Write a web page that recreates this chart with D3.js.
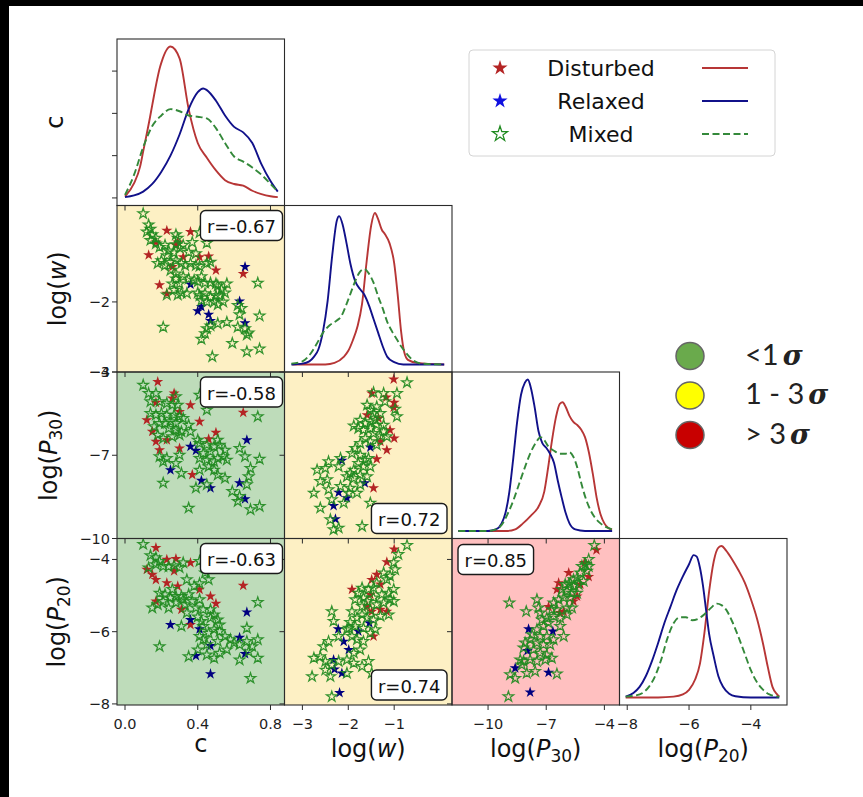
<!DOCTYPE html>
<html>
<head>
<meta charset="utf-8">
<script src="https://cdn.jsdelivr.net/npm/d3@7"></script>
<style>
body { margin: 0; background: #fff; }
svg { display: block; font-family: "DejaVu Sans", sans-serif; }
</style>
</head>
<body>
<svg id="chart" width="863" height="797"></svg>
<script>
// axes: c, log(w), log(P30), log(P20)
const xTicks = [[0, 0.4, 0.8], [-3, -2, -1], [-10, -7, -4], [-8, -6, -4]];
const yTicks = [[0, 1, 2, 3], [-3, -2], [-10, -7, -4], [-8, -6, -4]];
const xDomains = [[-0.044, 0.877], [-3.39, 0.26], [-11.86, -3.22], [-8.25, -2.83]];
const yDomains = [null, [-3, -0.624], [-10, -4], [-8.03, -3.42]];
const groups = ['Disturbed', 'Relaxed', 'Mixed'];

// c vs log(w)
const cW_dist = [[0.23,-0.98],[0.36,-1.00],[0.29,-1.15],[0.28,-1.19],[0.13,-1.33],[0.32,-1.36],[0.41,-1.36],[0.46,-1.35],[0.26,-1.50],[0.50,-1.55],[0.65,-1.60],[0.19,-1.76],[0.23,-1.88],[0.17,-1.15]];
const cW_rel = [[0.66,-1.50],[0.36,-1.75],[0.40,-2.13],[0.42,-2.07],[0.46,-2.18],[0.47,-2.27],[0.63,-1.99],[0.66,-2.30]];
const cW_mix = [[0.10,-0.74],[0.13,-0.90],[0.14,-0.96],[0.12,-1.00],[0.15,-1.04],[0.17,-1.09],[0.14,-1.12],[0.17,-1.17],[0.19,-1.22],[0.22,-1.19],[0.24,-1.27],[0.28,-1.04],[0.29,-1.09],[0.28,-1.18],[0.30,-1.23],[0.27,-1.30],[0.23,-1.34],[0.20,-1.41],[0.18,-1.45],[0.22,-1.48],[0.25,-1.43],[0.28,-1.41],[0.31,-1.45],[0.33,-1.48],[0.36,-1.45],[0.39,-1.48],[0.41,-1.49],[0.45,-1.45],[0.47,-1.43],[0.25,-1.55],[0.28,-1.60],[0.28,-1.67],[0.26,-1.74],[0.30,-1.74],[0.32,-1.64],[0.35,-1.67],[0.38,-1.69],[0.40,-1.71],[0.42,-1.64],[0.44,-1.73],[0.47,-1.73],[0.50,-1.74],[0.51,-1.77],[0.53,-1.82],[0.56,-1.74],[0.55,-1.87],[0.52,-1.91],[0.50,-1.91],[0.47,-1.93],[0.44,-1.88],[0.41,-1.91],[0.40,-1.87],[0.42,-1.98],[0.45,-2.00],[0.49,-2.00],[0.51,-2.04],[0.54,-2.00],[0.34,-1.88],[0.31,-1.87],[0.29,-1.90],[0.23,-1.90],[0.27,-1.83],[0.73,-1.73],[0.62,-2.05],[0.64,-2.09],[0.63,-2.18],[0.74,-2.20],[0.56,-2.29],[0.51,-2.31],[0.47,-2.34],[0.45,-2.38],[0.44,-2.45],[0.42,-2.53],[0.62,-2.36],[0.66,-2.38],[0.68,-2.44],[0.67,-2.47],[0.59,-2.59],[0.48,-2.78],[0.67,-2.71],[0.74,-2.67],[0.21,-2.36],[0.41,-1.01],[0.37,-1.15],[0.32,-1.19],[0.35,-1.29],[0.39,-1.31],[0.45,-1.16]];

// c vs log(P30)
const cP30_dist = [[0.18,-4.35],[0.17,-5.10],[0.27,-4.77],[0.26,-4.95],[0.36,-5.19],[0.30,-5.43],[0.12,-5.73],[0.15,-6.15],[0.17,-6.51],[0.19,-6.81],[0.41,-5.79],[0.50,-6.18],[0.46,-6.42],[0.65,-5.46],[0.30,-6.75],[0.37,-7.70],[0.23,-6.45]];
const cP30_rel = [[0.36,-6.69],[0.39,-6.83],[0.25,-7.53],[0.42,-7.91],[0.47,-8.18],[0.67,-6.45],[0.63,-8.00],[0.66,-8.58]];
const cP30_mix = [[0.10,-4.47],[0.13,-4.77],[0.17,-4.77],[0.14,-5.07],[0.19,-5.07],[0.23,-5.13],[0.28,-4.89],[0.26,-5.19],[0.29,-5.19],[0.14,-5.49],[0.17,-5.55],[0.20,-5.49],[0.23,-5.55],[0.27,-5.55],[0.30,-5.61],[0.32,-5.67],[0.25,-5.79],[0.28,-5.85],[0.22,-5.85],[0.19,-5.85],[0.16,-5.97],[0.24,-6.03],[0.28,-6.09],[0.31,-6.15],[0.18,-6.27],[0.21,-6.39],[0.26,-6.33],[0.30,-6.27],[0.35,-5.91],[0.36,-6.15],[0.19,-7.05],[0.21,-7.23],[0.23,-7.11],[0.30,-6.99],[0.28,-7.29],[0.31,-7.65],[0.21,-8.00],[0.41,-4.83],[0.45,-5.37],[0.51,-6.45],[0.49,-6.69],[0.52,-6.63],[0.55,-6.81],[0.47,-6.87],[0.43,-6.93],[0.41,-7.11],[0.45,-7.17],[0.49,-7.23],[0.51,-7.11],[0.54,-7.05],[0.56,-7.17],[0.46,-7.41],[0.49,-7.53],[0.51,-7.71],[0.55,-7.83],[0.41,-7.53],[0.39,-8.18],[0.45,-8.06],[0.59,-8.30],[0.63,-8.48],[0.63,-6.75],[0.66,-7.05],[0.74,-7.14],[0.73,-5.61],[0.69,-7.47],[0.68,-7.77],[0.67,-8.06],[0.62,-8.66],[0.69,-8.96],[0.74,-8.84],[0.35,-8.90],[0.40,-6.45],[0.41,-6.57],[0.45,-6.63]];

// c vs log(P20)
const cP20_dist = [[0.17,-3.68],[0.23,-4.00],[0.28,-3.98],[0.36,-4.09],[0.12,-4.28],[0.15,-4.42],[0.17,-4.56],[0.27,-4.32],[0.23,-4.65],[0.29,-4.74],[0.41,-4.83],[0.47,-5.02],[0.50,-5.22],[0.17,-5.16],[0.65,-4.72],[0.31,-5.39],[0.36,-5.81]];
const cP20_rel = [[0.25,-5.81],[0.36,-5.67],[0.41,-5.93],[0.47,-6.39],[0.39,-6.67],[0.47,-7.17],[0.67,-5.46],[0.63,-6.16],[0.66,-6.61]];
const cP20_mix = [[0.10,-3.58],[0.14,-3.89],[0.17,-3.95],[0.19,-4.05],[0.13,-4.23],[0.17,-4.14],[0.21,-4.19],[0.24,-4.20],[0.27,-4.17],[0.30,-4.23],[0.32,-4.09],[0.41,-4.05],[0.44,-4.37],[0.46,-4.56],[0.41,-4.67],[0.38,-4.74],[0.35,-4.97],[0.31,-5.02],[0.28,-5.02],[0.25,-5.06],[0.22,-4.97],[0.19,-4.93],[0.21,-5.16],[0.18,-5.25],[0.15,-5.34],[0.24,-5.34],[0.28,-5.20],[0.32,-5.11],[0.37,-5.16],[0.41,-5.11],[0.43,-5.39],[0.47,-5.39],[0.49,-5.53],[0.51,-5.67],[0.52,-5.81],[0.47,-5.62],[0.42,-5.71],[0.40,-5.59],[0.43,-5.85],[0.49,-5.94],[0.52,-5.99],[0.55,-6.13],[0.58,-6.22],[0.60,-6.31],[0.63,-6.36],[0.67,-6.27],[0.73,-6.22],[0.70,-6.41],[0.68,-6.55],[0.73,-6.73],[0.67,-5.90],[0.73,-5.19],[0.46,-6.04],[0.43,-6.22],[0.45,-6.36],[0.51,-6.27],[0.52,-6.59],[0.49,-6.73],[0.45,-6.64],[0.40,-6.50],[0.35,-6.69],[0.31,-5.85],[0.34,-5.48],[0.19,-6.41],[0.56,-6.50],[0.63,-6.78],[0.69,-7.29],[0.41,-6.13],[0.39,-5.34],[0.33,-5.25],[0.26,-4.83],[0.34,-4.56]];

// log(w) vs log(P30)
const wP30_dist = [[-1.01,-4.26],[-1.49,-4.77],[-1.17,-4.91],[-1.00,-5.10],[-1.01,-5.27],[-1.59,-5.55],[-1.34,-5.67],[-1.09,-6.09],[-1.00,-6.39],[-1.30,-6.51],[-1.16,-6.81],[-1.38,-7.14],[-1.45,-8.18]];
const wP30_rel = [[-1.52,-6.71],[-2.14,-7.19],[-2.21,-8.34],[-2.03,-8.54],[-2.32,-8.82],[-2.28,-9.30],[-1.64,-8.00]];
const wP30_mix = [[-0.72,-4.38],[-1.45,-4.74],[-1.23,-4.77],[-0.94,-4.77],[-1.20,-5.07],[-0.98,-5.34],[-0.94,-5.61],[-1.59,-5.19],[-1.52,-5.37],[-1.45,-5.49],[-1.38,-5.25],[-1.30,-5.49],[-1.41,-5.73],[-1.52,-5.79],[-1.63,-5.85],[-1.74,-5.73],[-1.88,-5.94],[-1.78,-6.03],[-1.67,-6.09],[-1.52,-6.03],[-1.38,-5.91],[-1.23,-5.91],[-1.16,-6.33],[-1.23,-6.15],[-1.45,-6.21],[-1.30,-6.30],[-1.63,-6.39],[-1.85,-6.75],[-1.92,-6.93],[-1.74,-6.99],[-1.63,-7.17],[-1.78,-7.29],[-1.67,-7.41],[-1.52,-7.41],[-1.59,-7.77],[-1.74,-7.71],[-1.88,-7.53],[-1.96,-7.65],[-1.88,-7.83],[-2.03,-7.77],[-2.17,-7.11],[-2.21,-7.41],[-2.43,-7.23],[-2.50,-7.47],[-2.68,-7.53],[-2.46,-7.88],[-2.61,-7.94],[-2.75,-8.36],[-2.43,-8.24],[-2.17,-8.12],[-1.96,-8.18],[-1.74,-8.06],[-1.81,-8.36],[-1.99,-8.36],[-2.10,-8.72],[-2.36,-8.60],[-2.61,-8.90],[-2.39,-9.32],[-2.32,-9.68],[-2.21,-9.62],[-1.70,-9.56],[-1.52,-8.72],[-1.56,-7.11],[-1.38,-6.63],[-1.52,-6.51],[-1.74,-6.57]];

// log(w) vs log(P20)
const wP20_dist = [[-1.00,-3.72],[-1.16,-4.07],[-1.38,-4.42],[-1.49,-4.56],[-1.92,-4.83],[-1.30,-4.69],[-1.52,-4.97],[-1.59,-5.30],[-1.49,-5.44],[-1.16,-5.44],[-1.30,-5.39],[-1.45,-6.13]];
const wP20_rel = [[-2.22,-5.93],[-2.10,-6.27],[-1.99,-6.50],[-1.78,-5.99],[-1.54,-5.76],[-2.32,-6.78],[-2.30,-7.04],[-2.14,-7.15],[-2.19,-7.69]];
const wP20_mix = [[-0.72,-3.61],[-0.91,-3.86],[-1.01,-4.09],[-0.98,-4.28],[-1.09,-4.46],[-1.16,-4.56],[-1.23,-4.37],[-1.38,-4.65],[-1.45,-4.79],[-1.56,-4.83],[-1.70,-4.79],[-1.78,-4.93],[-1.67,-5.06],[-1.59,-5.16],[-1.45,-5.06],[-1.27,-4.97],[-1.12,-4.93],[-1.01,-4.83],[-1.09,-5.11],[-1.23,-5.20],[-1.38,-5.25],[-1.52,-5.39],[-1.70,-5.30],[-1.85,-5.11],[-1.92,-5.44],[-1.81,-5.62],[-1.70,-5.53],[-1.59,-5.62],[-1.45,-5.67],[-1.30,-5.57],[-1.41,-5.94],[-1.52,-6.04],[-1.67,-5.90],[-1.85,-5.85],[-1.92,-6.13],[-1.81,-6.22],[-1.67,-6.27],[-1.74,-6.50],[-1.88,-6.59],[-2.03,-5.94],[-2.36,-5.44],[-2.32,-5.71],[-2.21,-6.13],[-2.43,-6.27],[-2.54,-6.41],[-2.61,-6.69],[-2.75,-6.73],[-2.50,-6.82],[-2.36,-6.92],[-2.21,-6.82],[-2.03,-6.78],[-1.88,-6.87],[-1.70,-6.96],[-1.56,-6.82],[-1.49,-7.15],[-2.50,-7.06],[-2.39,-7.24],[-2.03,-7.15],[-2.79,-7.24],[-2.36,-7.80],[-1.99,-5.90],[-1.96,-5.74],[-1.12,-5.53],[-1.01,-5.16]];

// log(P30) vs log(P20)
const pP_dist = [[-4.41,-3.74],[-5.03,-4.09],[-4.81,-4.48],[-5.24,-4.69],[-5.84,-4.37],[-6.36,-4.65],[-6.45,-4.83],[-6.28,-5.48],[-6.10,-5.44],[-6.88,-5.31],[-5.59,-5.16],[-5.41,-5.02]];
const pP_rel = [[-7.91,-5.93],[-7.97,-6.53],[-8.60,-7.01],[-7.83,-7.68],[-6.88,-7.13],[-6.66,-5.99]];
const pP_mix = [[-4.52,-3.61],[-4.81,-4.00],[-4.98,-4.14],[-5.16,-4.19],[-4.81,-4.19],[-4.90,-4.32],[-5.24,-4.37],[-5.41,-4.51],[-5.59,-4.56],[-5.07,-4.60],[-5.33,-4.69],[-5.59,-4.74],[-5.76,-4.65],[-6.02,-4.69],[-6.19,-4.83],[-5.93,-4.88],[-5.67,-4.93],[-5.41,-4.93],[-5.76,-5.06],[-6.10,-5.06],[-6.36,-5.11],[-6.62,-5.20],[-6.71,-5.39],[-6.45,-5.39],[-5.93,-5.34],[-5.67,-5.34],[-5.93,-5.53],[-6.28,-5.62],[-6.62,-5.57],[-6.97,-5.62],[-7.22,-5.67],[-7.40,-5.34],[-7.48,-5.11],[-8.03,-5.44],[-8.90,-5.20],[-6.88,-5.76],[-7.14,-5.85],[-7.48,-5.94],[-7.74,-6.08],[-7.31,-6.13],[-6.97,-6.13],[-6.62,-6.22],[-6.79,-6.36],[-7.14,-6.36],[-7.48,-6.31],[-7.83,-6.22],[-8.09,-6.31],[-8.17,-6.45],[-7.66,-6.50],[-7.31,-6.59],[-6.97,-6.64],[-6.71,-6.73],[-7.05,-6.78],[-7.48,-6.82],[-7.83,-6.78],[-8.17,-6.82],[-8.34,-6.78],[-8.00,-7.15],[-8.26,-6.92],[-7.57,-7.10],[-8.86,-7.19],[-8.60,-7.29],[-6.45,-7.17],[-6.10,-6.13],[-8.95,-7.80],[-5.84,-4.69],[-6.28,-5.85],[-7.31,-5.48]];

// density curves on the diagonal
const kdeC_dist = [[0,0.03],[0.05,0.35],[0.083,0.74],[0.10,1.1],[0.138,1.92],[0.15,2.2],[0.193,3.1],[0.20,3.2],[0.25,3.58],[0.30,3.3],[0.35,2.1],[0.40,1.3],[0.45,0.95],[0.50,0.65],[0.55,0.42],[0.60,0.33],[0.65,0.29],[0.70,0.17],[0.75,0.09],[0.80,0.04],[0.84,0.02]];
const kdeC_rel = [[0,0.02],[0.05,0.06],[0.10,0.15],[0.15,0.33],[0.20,0.62],[0.25,1.0],[0.30,1.5],[0.35,2.1],[0.40,2.5],[0.43,2.59],[0.45,2.55],[0.50,2.3],[0.55,1.95],[0.60,1.68],[0.65,1.55],[0.70,1.3],[0.75,0.8],[0.80,0.4],[0.84,0.15]];
const kdeC_mix = [[0,0.07],[0.05,0.55],[0.10,1.2],[0.15,1.7],[0.20,1.95],[0.25,2.1],[0.30,2.05],[0.35,1.95],[0.40,1.92],[0.45,1.88],[0.50,1.65],[0.55,1.3],[0.60,0.98],[0.65,0.86],[0.70,0.72],[0.75,0.55],[0.80,0.33],[0.84,0.15]];

const kdeW_dist = [[-3.22,0],[-2.5,0],[-2.3,0.01],[-2.1,0.05],[-2.0,0.09],[-1.9,0.16],[-1.8,0.25],[-1.7,0.4],[-1.6,0.68],[-1.5,0.92],[-1.42,1.0],[-1.35,0.96],[-1.27,0.89],[-1.2,0.86],[-1.1,0.8],[-1.0,0.67],[-0.92,0.45],[-0.85,0.22],[-0.78,0.08],[-0.7,0.03],[-0.5,0.01],[0.09,0]];
const kdeW_rel = [[-3.24,0],[-3.0,0.005],[-2.85,0.02],[-2.75,0.05],[-2.65,0.1],[-2.55,0.22],[-2.45,0.42],[-2.35,0.72],[-2.25,0.95],[-2.2,0.98],[-2.12,0.92],[-2.05,0.82],[-1.95,0.66],[-1.85,0.55],[-1.75,0.5],[-1.65,0.46],[-1.55,0.39],[-1.45,0.3],[-1.35,0.21],[-1.25,0.12],[-1.15,0.05],[-1.0,0.015],[-0.8,0],[0.09,0]];
const kdeW_mix = [[-3.24,0.005],[-3.0,0.02],[-2.85,0.06],[-2.7,0.13],[-2.55,0.21],[-2.4,0.26],[-2.25,0.29],[-2.15,0.32],[-2.05,0.39],[-1.95,0.47],[-1.85,0.55],[-1.75,0.61],[-1.65,0.63],[-1.55,0.6],[-1.45,0.54],[-1.35,0.45],[-1.25,0.37],[-1.15,0.28],[-1.05,0.22],[-0.95,0.17],[-0.85,0.12],[-0.75,0.08],[-0.6,0.03],[-0.4,0.005],[0.09,0]];

const kdeP30_dist = [[-11.53,0],[-9.0,0],[-8.6,0.01],[-8.2,0.05],[-7.8,0.1],[-7.4,0.16],[-7.1,0.26],[-6.9,0.42],[-6.7,0.6],[-6.5,0.75],[-6.3,0.84],[-6.15,0.85],[-6.0,0.82],[-5.8,0.76],[-5.6,0.72],[-5.4,0.7],[-5.2,0.67],[-5.0,0.62],[-4.8,0.52],[-4.6,0.38],[-4.4,0.22],[-4.2,0.11],[-4.0,0.05],[-3.8,0.02],[-3.6,0.01]];
const kdeP30_rel = [[-11.53,0],[-10,0],[-9.6,0.01],[-9.3,0.05],[-9.1,0.12],[-8.9,0.26],[-8.7,0.48],[-8.5,0.72],[-8.3,0.9],[-8.1,0.98],[-7.95,1.0],[-7.8,0.95],[-7.6,0.82],[-7.4,0.66],[-7.2,0.58],[-7.0,0.55],[-6.8,0.51],[-6.6,0.45],[-6.4,0.33],[-6.2,0.22],[-6.0,0.12],[-5.8,0.05],[-5.5,0.01],[-5.0,0],[-3.6,0]];
const kdeP30_mix = [[-11.53,0],[-10.0,0],[-9.6,0.01],[-9.3,0.04],[-9.0,0.11],[-8.7,0.2],[-8.4,0.31],[-8.1,0.42],[-7.8,0.52],[-7.5,0.59],[-7.3,0.62],[-7.1,0.6],[-6.9,0.56],[-6.6,0.53],[-6.3,0.51],[-6.0,0.51],[-5.8,0.52],[-5.6,0.49],[-5.4,0.42],[-5.2,0.32],[-5.0,0.23],[-4.8,0.16],[-4.5,0.09],[-4.2,0.05],[-3.9,0.025],[-3.6,0.01]];

const kdeP20_dist = [[-8.05,0],[-7.0,0],[-6.5,0.005],[-6.2,0.02],[-6.0,0.05],[-5.8,0.12],[-5.65,0.22],[-5.5,0.43],[-5.35,0.7],[-5.2,0.9],[-5.05,0.99],[-4.95,1.0],[-4.8,0.97],[-4.6,0.91],[-4.4,0.84],[-4.2,0.76],[-4.0,0.65],[-3.8,0.52],[-3.6,0.35],[-3.45,0.2],[-3.3,0.07],[-3.15,0.02],[-3.08,0.005]];
const kdeP20_rel = [[-8.05,0.005],[-7.8,0.03],[-7.6,0.07],[-7.4,0.14],[-7.2,0.24],[-7.0,0.36],[-6.8,0.49],[-6.6,0.6],[-6.4,0.71],[-6.2,0.8],[-6.0,0.88],[-5.85,0.94],[-5.75,0.93],[-5.65,0.86],[-5.55,0.74],[-5.45,0.58],[-5.35,0.42],[-5.2,0.27],[-5.05,0.14],[-4.9,0.07],[-4.7,0.025],[-4.5,0.008],[-4.0,0],[-3.08,0]];
const kdeP20_mix = [[-8.05,0.005],[-7.8,0.01],[-7.5,0.03],[-7.3,0.07],[-7.1,0.14],[-6.9,0.25],[-6.7,0.39],[-6.5,0.49],[-6.3,0.53],[-6.1,0.53],[-5.9,0.51],[-5.7,0.52],[-5.5,0.55],[-5.3,0.59],[-5.1,0.62],[-4.95,0.61],[-4.8,0.58],[-4.6,0.5],[-4.4,0.4],[-4.2,0.29],[-4.0,0.18],[-3.8,0.1],[-3.6,0.05],[-3.4,0.02],[-3.2,0.008],[-3.08,0.005]];

const diags = [
    [kdeC_dist, kdeC_rel, kdeC_mix],
    [kdeW_dist, kdeW_rel, kdeW_mix],
    [kdeP30_dist, kdeP30_rel, kdeP30_mix],
    [kdeP20_dist, kdeP20_rel, kdeP20_mix]
];

const panels = [
    { row: 1, col: 0, bg: '#fdf0c4', r: 'r=-0.67', corner: 'ur', sets: [cW_dist, cW_rel, cW_mix] },
    { row: 2, col: 0, bg: '#bedcba', r: 'r=-0.58', corner: 'ur', sets: [cP30_dist, cP30_rel, cP30_mix] },
    { row: 3, col: 0, bg: '#bedcba', r: 'r=-0.63', corner: 'ur', sets: [cP20_dist, cP20_rel, cP20_mix] },
    { row: 2, col: 1, bg: '#fdf0c4', r: 'r=0.72', corner: 'lr', sets: [wP30_dist, wP30_rel, wP30_mix] },
    { row: 3, col: 1, bg: '#fdf0c4', r: 'r=0.74', corner: 'lr', sets: [wP20_dist, wP20_rel, wP20_mix] },
    { row: 3, col: 2, bg: '#ffc0c0', r: 'r=0.85', corner: 'ul', sets: [pP_dist, pP_rel, pP_mix] }
];

const sigmaLabels = ['<1', '1 - 3', '> 3'];
const sigmaColors = ['#6aaa4c', '#ffff00', '#c80000'];

const starStyle = {
    Disturbed: { fill: '#b42424', stroke: 'none', sw: 0, size: 38 },
    Relaxed: { fill: '#00007f', stroke: 'none', sw: 0, size: 38 },
    Mixed: { fill: 'none', stroke: '#1f8a1f', sw: 1.25, size: 34 }
};
const lineStyle = {
    Disturbed: { stroke: '#b73636', dash: null },
    Relaxed: { stroke: '#11118a', dash: null },
    Mixed: { stroke: '#34893a', dash: '7,3.5' }
};

const svg = d3.select('#chart');
const gridLeft = 117, gridTop = 39, pw = 167.5, ph = 166.5;
const x0 = c => gridLeft + c * pw;
const y0 = r => gridTop + r * ph;

// black strips at the top and left edges of the picture
svg.append('rect').attr('width', 863).attr('height', 6).attr('fill', '#000');
svg.append('rect').attr('width', 9).attr('height', 797).attr('fill', '#000');

const xs = xDomains.map((d, i) => d3.scaleLinear().domain(d).range([x0(i), x0(i + 1)]));
const ys = yDomains.map((d, i) => d ? d3.scaleLinear().domain(d).range([y0(i + 1), y0(i)]) : null);
const diagY = diags.map((sets, i) => {
    const m = d3.max(sets.flat(), d => d[1]);
    return d3.scaleLinear().domain([-0.05 * m, 1.05 * m]).range([y0(i + 1), y0(i)]);
});

const defs = svg.append('defs');
for (let r = 0; r < 4; r++) {
    for (let c = 0; c <= r; c++) {
        defs.append('clipPath').attr('id', `clip-${r}-${c}`)
            .append('rect')
            .attr('x', x0(c)).attr('y', y0(r))
            .attr('width', pw).attr('height', ph);
    }
}

const gBg = svg.append('g');
const gMarks = svg.append('g');
const gFrame = svg.append('g');
const gTicks = svg.append('g');
const gText = svg.append('g');

// scatter panels
panels.forEach(p => {
    gBg.append('rect')
        .attr('x', x0(p.col)).attr('y', y0(p.row))
        .attr('width', pw).attr('height', ph)
        .attr('fill', p.bg);
    const g = gMarks.append('g').attr('clip-path', `url(#clip-${p.row}-${p.col})`);
    const sx = xs[p.col], sy = ys[p.row];
    p.sets.forEach((pts, k) => {
        const st = starStyle[groups[k]];
        const star = d3.symbol().type(d3.symbolStar).size(st.size);
        g.append('g').selectAll('path')
            .data(pts)
            .join('path')
            .attr('d', star)
            .attr('transform', d => `translate(${sx(d[0])},${sy(d[1])})`)
            .attr('fill', st.fill)
            .attr('stroke', st.stroke)
            .attr('stroke-width', st.sw)
            .attr('stroke-opacity', 0.9);
    });
});

// density curves
diags.forEach((sets, i) => {
    const g = gMarks.append('g').attr('clip-path', `url(#clip-${i}-${i})`);
    const line = d3.line()
        .curve(d3.curveMonotoneX)
        .x(d => xs[i](d[0]))
        .y(d => diagY[i](d[1]));
    sets.forEach((pts, k) => {
        const st = lineStyle[groups[k]];
        g.append('path')
            .attr('d', line(pts))
            .attr('fill', 'none')
            .attr('stroke', st.stroke)
            .attr('stroke-width', 1.9)
            .attr('stroke-dasharray', st.dash);
    });
});

// frames, ticks and tick labels
const fmt = [d3.format('.1f'), d3.format('d'), d3.format('d'), d3.format('d')];
for (let r = 0; r < 4; r++) {
    for (let c = 0; c <= r; c++) {
        gFrame.append('rect')
            .attr('x', x0(c)).attr('y', y0(r))
            .attr('width', pw).attr('height', ph)
            .attr('fill', 'none')
            .attr('stroke', '#2b2b2b')
            .attr('stroke-width', 1.1);

        const by = y0(r + 1);
        xTicks[c].forEach(v => {
            const x = xs[c](v);
            gTicks.append('line')
                .attr('x1', x).attr('x2', x)
                .attr('y1', by).attr('y2', by + 5)
                .attr('stroke', '#2b2b2b');
            if (r === 3) {
                gText.append('text')
                    .attr('x', x).attr('y', 729)
                    .attr('text-anchor', 'middle')
                    .attr('font-size', 14.5)
                    .attr('fill', '#1e1e1e')
                    .text(fmt[c](v));
            }
        });

        let sy = null, tv = null;
        if (c < r) { sy = ys[r]; tv = yTicks[r]; }
        else if (r === 0) { sy = diagY[0]; tv = yTicks[0]; }
        if (!sy) continue;
        const bx = x0(c);
        tv.forEach(v => {
            const y = sy(v);
            gTicks.append('line')
                .attr('x1', bx - 5).attr('x2', bx)
                .attr('y1', y).attr('y2', y)
                .attr('stroke', '#2b2b2b');
            if (c === 0 && r > 0) {
                gText.append('text')
                    .attr('x', bx - 7).attr('y', y)
                    .attr('text-anchor', 'end')
                    .attr('dominant-baseline', 'central')
                    .attr('font-size', 14.5)
                    .attr('fill', '#1e1e1e')
                    .text(fmt[1](v));
            }
        });
    }
}

// correlation boxes
panels.forEach(p => {
    const g = gText.append('g');
    const t = g.append('text').attr('font-size', 18).attr('fill', '#111').text(p.r);
    const bw = t.node().getComputedTextLength() + 13, bh = 30;
    let bx, by;
    if (p.corner === 'ur') { bx = x0(p.col + 1) - 2 - bw; by = y0(p.row) + 5; }
    else if (p.corner === 'lr') { bx = x0(p.col + 1) - 5 - bw; by = y0(p.row + 1) - 5 - bh; }
    else { bx = x0(p.col) + 6; by = y0(p.row) + 6; }
    g.insert('rect', 'text')
        .attr('x', bx).attr('y', by)
        .attr('width', bw).attr('height', bh)
        .attr('rx', 5)
        .attr('fill', '#fff')
        .attr('stroke', '#1a1a1a')
        .attr('stroke-width', 1.4);
    t.attr('x', bx + bw / 2).attr('y', by + bh / 2 + 1)
        .attr('text-anchor', 'middle')
        .attr('dominant-baseline', 'central');
});

// axis titles
function axisTitle(sel, name, sub) {
    sel.attr('font-size', 24).attr('fill', '#111').attr('text-anchor', 'middle');
    if (name === 'c') { sel.text('c'); return; }
    sel.append('tspan').text('log(');
    sel.append('tspan').attr('font-style', 'italic').text(name);
    if (sub) {
        sel.append('tspan').attr('font-size', 17).attr('dy', 5).text(sub);
        sel.append('tspan').attr('dy', -5).text(')');
    } else {
        sel.append('tspan').text(')');
    }
}
const titles = [['c', null], ['w', null], ['P', '30'], ['P', '20']];
const rowTitleX = [63, 66, 57, 65];
const colTitleY = [752, 757, 757, 757];
titles.forEach((t, i) => {
    axisTitle(gText.append('text')
        .attr('transform', `translate(${rowTitleX[i]},${y0(i) + ph / 2}) rotate(-90)`), t[0], t[1]);
    axisTitle(gText.append('text')
        .attr('x', x0(i) + pw / 2).attr('y', colTitleY[i]), t[0], t[1]);
});

// group legend
const lg = svg.append('g');
lg.append('rect')
    .attr('x', 469).attr('y', 50).attr('width', 306).attr('height', 106)
    .attr('rx', 4).attr('fill', '#fff')
    .attr('stroke', '#d4d4d4').attr('stroke-width', 1);
const legendStar = d3.symbol().type(d3.symbolStar).size(72);
const legendFill = ['#b42424', '#1010e0', 'none'];
groups.forEach((name, k) => {
    const y = 68 + k * 33;
    lg.append('path')
        .attr('d', legendStar)
        .attr('transform', `translate(500,${y})`)
        .attr('fill', legendFill[k])
        .attr('stroke', k === 2 ? starStyle.Mixed.stroke : 'none')
        .attr('stroke-width', 1.2);
    lg.append('text')
        .attr('x', 601).attr('y', y + 8)
        .attr('text-anchor', 'middle')
        .attr('font-size', 22)
        .attr('fill', '#111')
        .text(name);
    const st = lineStyle[name];
    lg.append('line')
        .attr('x1', 702).attr('x2', 748)
        .attr('y1', y).attr('y2', y)
        .attr('stroke', st.stroke)
        .attr('stroke-width', 1.9)
        .attr('stroke-dasharray', st.dash);
});

// significance legend
const sg = svg.append('g');
sigmaLabels.forEach((lab, k) => {
    const cy = 356 + k * 39.5;
    sg.append('ellipse')
        .attr('cx', 690).attr('cy', cy)
        .attr('rx', 14).attr('ry', 13.5)
        .attr('fill', sigmaColors[k])
        .attr('stroke', '#666').attr('stroke-width', 1.5);
    const t = sg.append('text')
        .attr('x', 745).attr('y', cy + 8.5)
        .attr('font-family', 'Lato, "Open Sans", sans-serif')
        .attr('font-size', 29)
        .attr('fill', '#222')
        .attr('xml:space', 'preserve')
        .text(lab);
    t.append('tspan')
        .attr('dx', 4)
        .attr('font-family', '"DejaVu Serif", serif')
        .attr('font-weight', 'bold')
        .attr('font-style', 'italic')
        .attr('font-size', 27)
        .text('σ');
});
</script>
</body>
</html>
